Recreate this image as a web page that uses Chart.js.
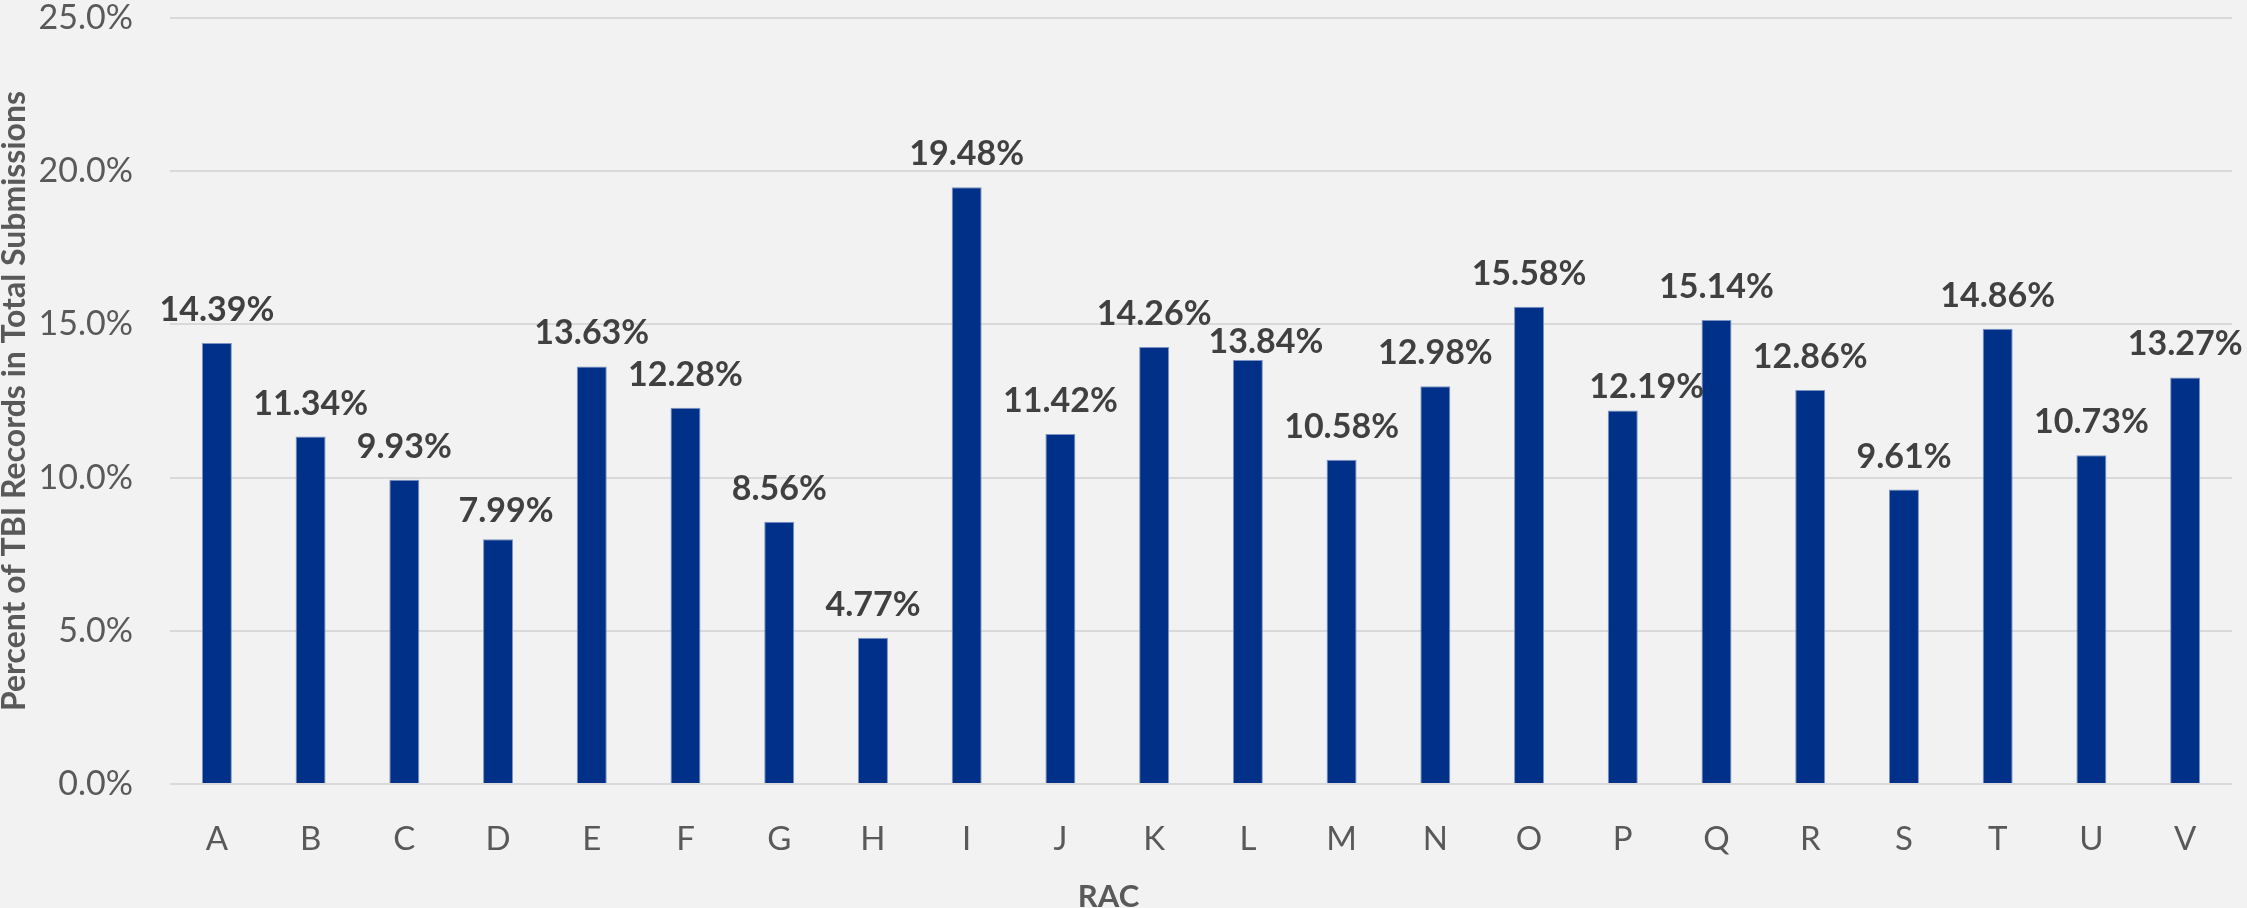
<!DOCTYPE html>
<html>
<head>
<meta charset="utf-8">
<script src="https://cdn.jsdelivr.net/npm/chart.js@4/dist/chart.umd.min.js"></script>
<style>
  html, body { margin:0; padding:0; background:#f2f2f2; }
  #wrap { width:2247px; height:908px; }
</style>
</head>
<body>
<div id="wrap"><canvas id="barChart" width="2247" height="908"></canvas></div>
<script>
const racLabels = ['A','B','C','D','E','F','G','H','I','J','K','L','M','N','O','P','Q','R','S','T','U','V'];
const tbiPercent = [14.39, 11.34, 9.93, 7.99, 13.63, 12.28, 8.56, 4.77, 19.48, 11.42, 14.26,
                    13.84, 10.58, 12.98, 15.58, 12.19, 15.14, 12.86, 9.61, 14.86, 10.73, 13.27];
const yTicks = [0, 5, 10, 15, 20, 25];
const yTitle = 'Percent of TBI Records in Total Submissions';
const xTitle = 'RAC';

const fontFam = 'Lato, "Open Sans", sans-serif';
// a few labels were nudged by hand in the original to dodge neighbours
const labelNudge = { D: [8, 5], L: [18, 15], P: [24, 10] };

// background + value labels + bottom title
const decor = {
  id: 'decor',
  beforeDraw(chart) {
    const c = chart.ctx;
    c.save();
    c.fillStyle = '#f2f2f2';
    c.fillRect(0, 0, chart.width, chart.height);
    c.restore();
  },
  afterDatasetsDraw(chart) {
    const c = chart.ctx;
    const meta = chart.getDatasetMeta(0);
    c.save();
    c.font = 'bold 34px ' + fontFam;
    c.fillStyle = '#404040';
    c.textAlign = 'center';
    c.textBaseline = 'alphabetic';
    meta.data.forEach((bar, i) => {
      const n = labelNudge[racLabels[i]] || [0, 0];
      c.fillText(tbiPercent[i].toFixed(2) + '%', bar.x + n[0], bar.y - 22 + n[1]);
    });
    // axis title centred on the whole chart, like the original
    c.font = 'bold 31px ' + fontFam;
    c.fillStyle = '#595959';
    c.fillText(xTitle, chart.width / 2 - 15, chart.height - 1);
    c.restore();
  }
};

new Chart(document.getElementById('barChart').getContext('2d'), {
  type: 'bar',
  data: {
    labels: racLabels,
    datasets: [{
      data: tbiPercent,
      backgroundColor: '#003087',
      borderColor: '#7d93c4',
      borderWidth: 1,
      categoryPercentage: 1,
      barPercentage: 0.32
    }]
  },
  options: {
    responsive: false,
    animation: false,
    layout: { padding: { top: 18, right: 15, left: 0, bottom: 0 } },
    plugins: { legend: { display: false }, tooltip: { enabled: false } },
    scales: {
      x: {
        grid: { display: false, drawTicks: false },
        border: { display: false },
        ticks: { color: '#595959', font: { family: fontFam, size: 33 }, padding: 36, maxRotation: 0 },
        afterFit(s) { s.height = 124; s.paddingLeft = 0; s.paddingRight = 0; }
      },
      y: {
        min: 0, max: 25,
        afterBuildTicks(s) { s.ticks = yTicks.map(v => ({ value: v })); },
        grid: { color: '#d9d9d9', lineWidth: 2, drawTicks: false },
        border: { display: false },
        ticks: {
          color: '#595959', font: { family: fontFam, size: 34 }, padding: 37,
          callback: v => v.toFixed(1) + '%'
        },
        title: {
          display: true, text: yTitle, color: '#595959',
          font: { family: fontFam, size: 32, weight: 'bold', lineHeight: 0.9 },
          padding: { top: 0, bottom: 0 }
        },
        afterFit(s) { s.width = 170; s.paddingTop = 0; s.paddingBottom = 0; }
      }
    }
  },
  plugins: [decor]
});
</script>
</body>
</html>
